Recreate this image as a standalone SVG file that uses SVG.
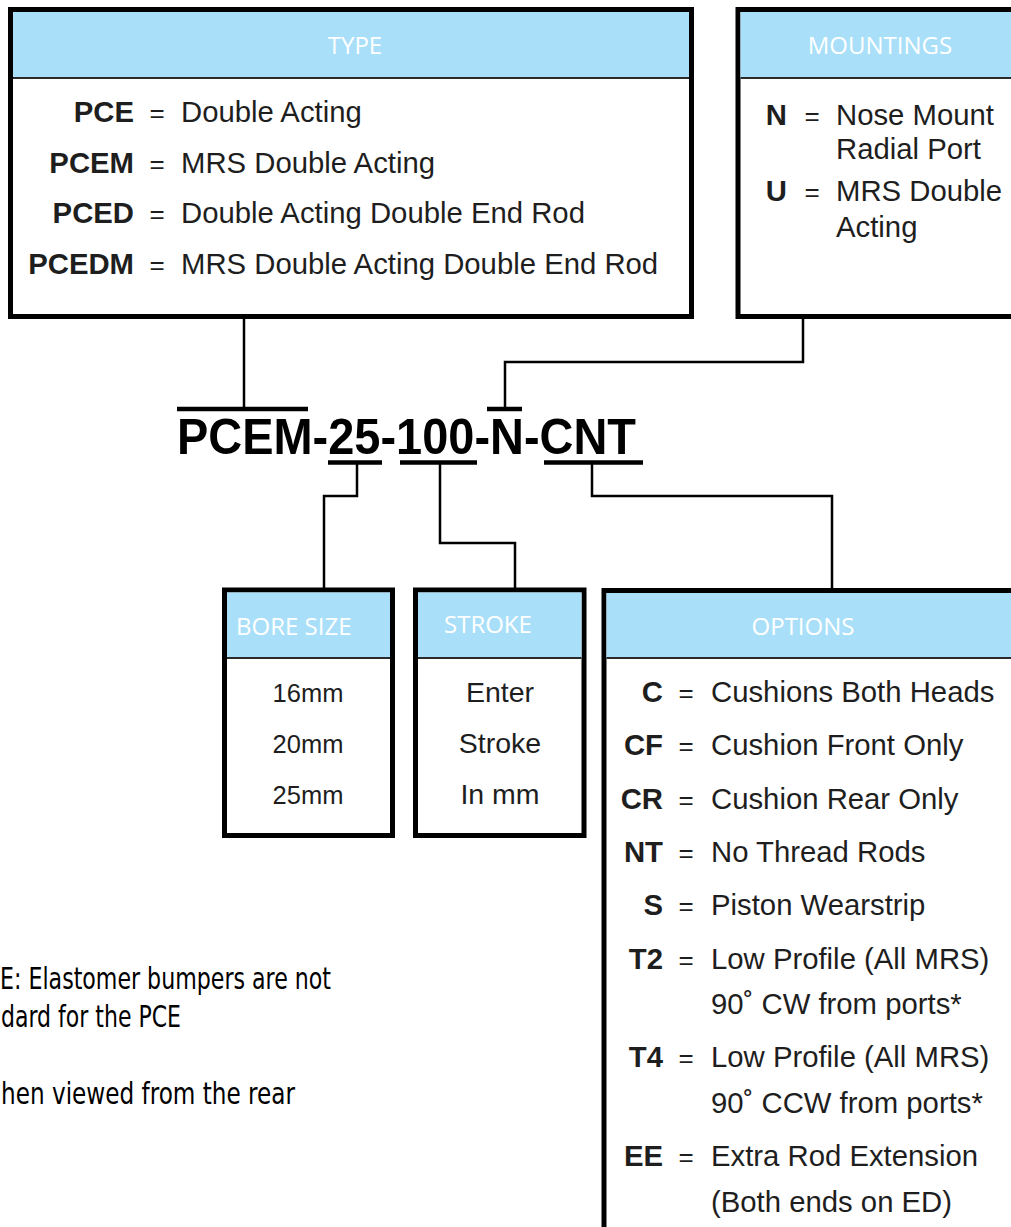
<svg xmlns="http://www.w3.org/2000/svg" width="1011" height="1227" viewBox="0 0 1011 1227">
<style>
.box{fill:#fff;stroke:#000;stroke-width:5}
.hdr{fill:#aadff9}
.sep{stroke:#2a2a2a;stroke-width:2}
.ht{font-family:"Open Sans",sans-serif;font-size:24px;fill:#fff}
.t{font-family:"Liberation Sans",Arial,sans-serif;font-size:29.3px;fill:#1e1e1e}
.b{font-weight:bold;text-anchor:end}
.eq{text-anchor:middle;font-size:26px}
.m{text-anchor:middle}
.c{fill:none;stroke:#000;stroke-width:2.5}
.bar{stroke:#000;stroke-width:4.5}
.note{font-family:"Liberation Sans Narrow","DejaVu Sans Condensed",sans-serif;font-size:31px;fill:#000}
</style>
<rect width="1011" height="1227" fill="#fff"/>

<g id="type">
<rect class="box" x="10.5" y="9.5" width="681" height="307"/>
<rect class="hdr" x="13" y="12" width="676" height="66"/>
<line class="sep" x1="13" y1="78" x2="689" y2="78"/>
<text class="ht m" x="355" y="54">TYPE</text>
<text class="t b" x="134" y="122">PCE</text><text class="t eq" x="157" y="122">=</text><text class="t" x="181" y="122">Double Acting</text>
<text class="t b" x="134" y="173">PCEM</text><text class="t eq" x="157" y="173">=</text><text class="t" x="181" y="173">MRS Double Acting</text>
<text class="t b" x="134" y="223">PCED</text><text class="t eq" x="157" y="223">=</text><text class="t" x="181" y="223">Double Acting Double End Rod</text>
<text class="t b" x="134" y="274">PCEDM</text><text class="t eq" x="157" y="274">=</text><text class="t" x="181" y="274">MRS Double Acting Double End Rod</text>
</g>

<g id="mountings">
<rect class="box" x="738" y="9.5" width="300" height="307"/>
<rect class="hdr" x="740.5" y="12" width="290" height="66"/>
<line class="sep" x1="740.5" y1="78" x2="1011" y2="78"/>
<text class="ht m" x="880" y="54">MOUNTINGS</text>
<text class="t b" x="787" y="125">N</text><text class="t eq" x="812" y="125">=</text><text class="t" x="836" y="125">Nose Mount</text>
<text class="t" x="836" y="159">Radial Port</text>
<text class="t b" x="787" y="201">U</text><text class="t eq" x="812" y="201">=</text><text class="t" x="836" y="201">MRS Double</text>
<text class="t" x="836" y="237">Acting</text>
</g>

<g id="code">
<text x="177" y="454" font-family="Liberation Sans, Arial, sans-serif" font-size="50" font-weight="bold" fill="#000" textLength="459" lengthAdjust="spacingAndGlyphs">PCEM-25-100-N-CNT</text>
</g>

<g id="connectors">
<line class="bar" x1="177" y1="409" x2="308" y2="409"/>
<line class="bar" x1="487" y1="409" x2="522" y2="409"/>
<line class="bar" x1="328" y1="462.5" x2="382" y2="462.5"/>
<line class="bar" x1="400" y1="462.5" x2="477" y2="462.5"/>
<line class="bar" x1="544" y1="462.5" x2="643" y2="462.5"/>
<path class="c" d="M244 319V409"/>
<path class="c" d="M803 319V362H505V409"/>
<path class="c" d="M357 462V496H324V588"/>
<path class="c" d="M440 462V543H515V588"/>
<path class="c" d="M592 462V496H832V588"/>
</g>

<g id="bore">
<rect class="box" x="224.5" y="590" width="168" height="245.5"/>
<rect class="hdr" x="227" y="592.5" width="163" height="65.5"/>
<line class="sep" x1="227" y1="658" x2="390" y2="658"/>
<text class="ht" x="236" y="635">BORE SIZE</text>
<text class="t m" x="308" y="702" style="font-size:25.5px">16mm</text>
<text class="t m" x="308" y="753" style="font-size:25.5px">20mm</text>
<text class="t m" x="308" y="804" style="font-size:25.5px">25mm</text>
</g>

<g id="stroke">
<rect class="box" x="415.5" y="590" width="168.5" height="245.5"/>
<rect class="hdr" x="418" y="592.5" width="163.5" height="65.5"/>
<line class="sep" x1="418" y1="658" x2="581.5" y2="658"/>
<text class="ht" x="444" y="633">STROKE</text>
<text class="t m" x="500" y="702" style="font-size:28.5px">Enter</text>
<text class="t m" x="500" y="753" style="font-size:28.5px">Stroke</text>
<text class="t m" x="500" y="804" style="font-size:28.5px">In mm</text>
</g>

<g id="options">
<rect class="box" x="604" y="590.5" width="450" height="700"/>
<rect class="hdr" x="606.5" y="593" width="420" height="65"/>
<line class="sep" x1="606.5" y1="658" x2="1011" y2="658"/>
<text class="ht m" x="803" y="635">OPTIONS</text>
<text class="t b" x="663" y="702">C</text><text class="t eq" x="686" y="702">=</text><text class="t" x="711" y="702">Cushions Both Heads</text>
<text class="t b" x="663" y="755">CF</text><text class="t eq" x="686" y="755">=</text><text class="t" x="711" y="755">Cushion Front Only</text>
<text class="t b" x="663" y="809">CR</text><text class="t eq" x="686" y="809">=</text><text class="t" x="711" y="809">Cushion Rear Only</text>
<text class="t b" x="663" y="862">NT</text><text class="t eq" x="686" y="862">=</text><text class="t" x="711" y="862">No Thread Rods</text>
<text class="t b" x="663" y="915">S</text><text class="t eq" x="686" y="915">=</text><text class="t" x="711" y="915">Piston Wearstrip</text>
<text class="t b" x="663" y="969">T2</text><text class="t eq" x="686" y="969">=</text><text class="t" x="711" y="969">Low Profile (All MRS)</text>
<text class="t" x="711" y="1014">90˚ CW from ports*</text>
<text class="t b" x="663" y="1067">T4</text><text class="t eq" x="686" y="1067">=</text><text class="t" x="711" y="1067">Low Profile (All MRS)</text>
<text class="t" x="711" y="1113">90˚ CCW from ports*</text>
<text class="t b" x="663" y="1166">EE</text><text class="t eq" x="686" y="1166">=</text><text class="t" x="711" y="1166">Extra Rod Extension</text>
<text class="t" x="711" y="1212">(Both ends on ED)</text>
</g>

<g id="notes">
<text class="note" x="0" y="989" textLength="331" lengthAdjust="spacingAndGlyphs">E: Elastomer bumpers are not</text>
<text class="note" x="1" y="1027" textLength="180" lengthAdjust="spacingAndGlyphs">dard for the PCE</text>
<text class="note" x="1" y="1104" textLength="294" lengthAdjust="spacingAndGlyphs">hen viewed from the rear</text>
</g>
</svg>
